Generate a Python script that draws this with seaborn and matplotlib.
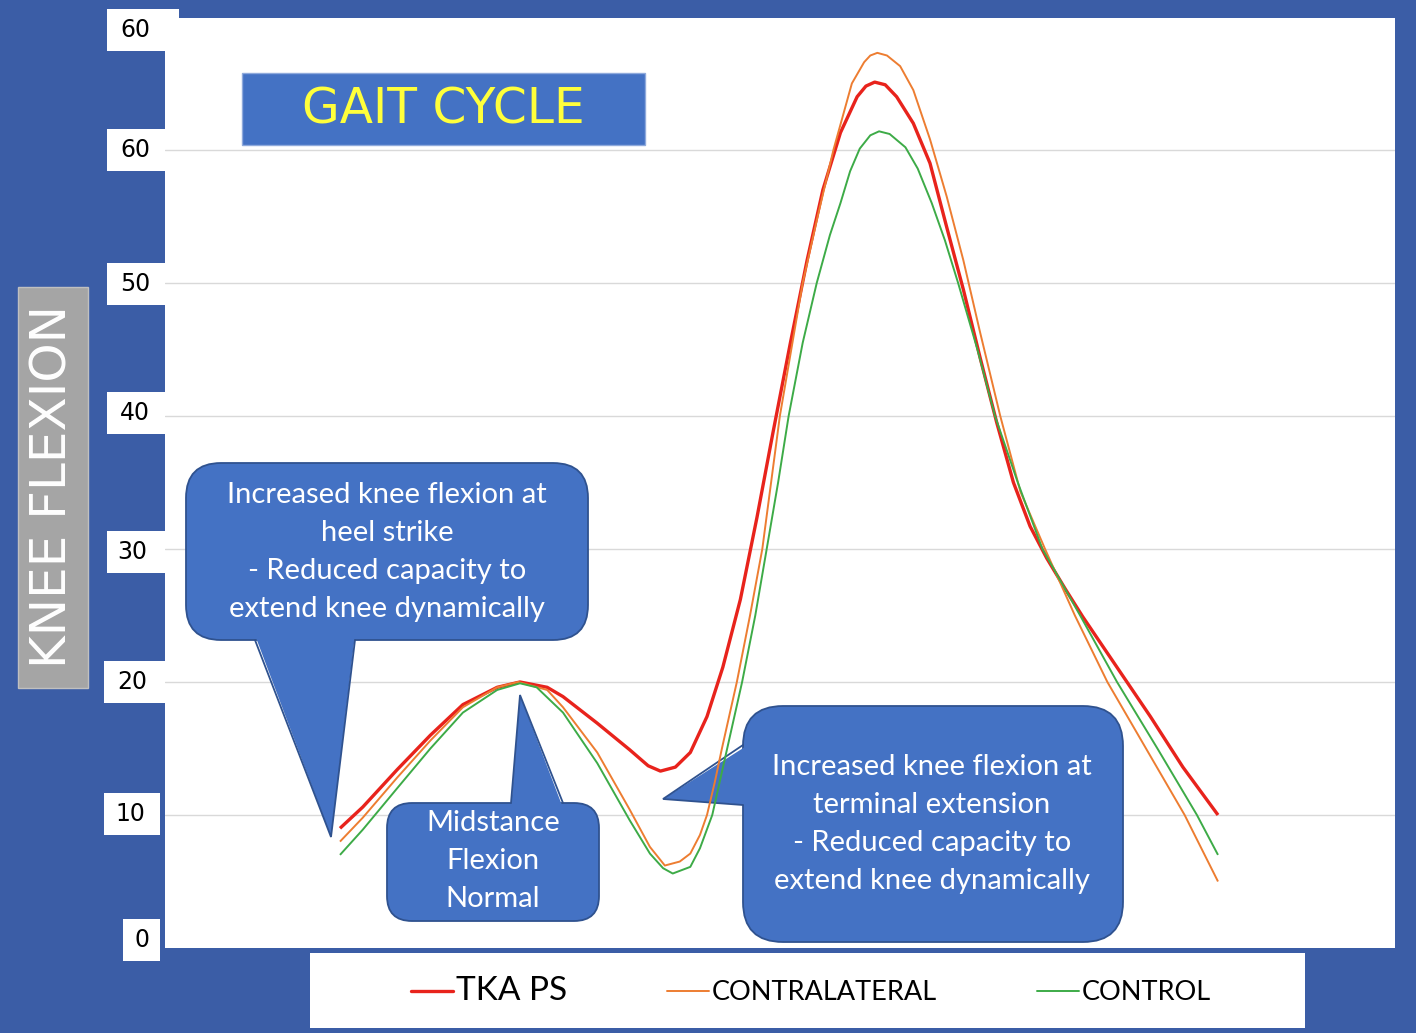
import numpy as np
import pandas as pd
import matplotlib
matplotlib.use("Agg")
import matplotlib.pyplot as plt
import seaborn as sns
from matplotlib.patches import FancyBboxPatch, Rectangle, Polygon
from matplotlib.lines import Line2D
from matplotlib.transforms import Affine2D, blended_transform_factory

# ---------------- data ----------------
series_names = ["TKA PS", "CONTRALATERAL", "CONTROL"]

gait_tka = [0.0, 2.6, 6.5, 10.3, 14.0, 17.9, 20.5, 23.6, 25.4, 29.3, 33.0, 35.1, 36.5, 38.2,
            39.9, 41.8, 43.6, 45.6, 47.5, 49.3, 51.3, 53.2, 55.0, 57.0, 58.9, 59.9, 60.9,
            62.1, 63.4, 65.3, 67.2, 69.1, 71.0, 72.9, 74.8, 76.7, 78.6, 80.5, 82.6, 84.6,
            88.5, 92.3, 96.0, 100.0]
knee_tka = [9.0, 10.6, 13.4, 16.0, 18.3, 19.6, 20.0, 19.6, 18.9, 16.9, 14.9, 13.7, 13.3, 13.6,
            14.7, 17.4, 21.1, 26.2, 32.4, 38.7, 45.5, 51.7, 57.0, 61.3, 64.0, 64.8, 65.1,
            64.9, 64.0, 62.0, 59.0, 54.2, 49.5, 44.4, 39.5, 35.0, 31.7, 29.3, 27.0, 24.9,
            21.1, 17.4, 13.6, 10.0]

gait_contra = [0.0, 2.6, 6.5, 10.3, 14.0, 17.9, 20.3, 23.6, 25.4, 29.3, 33.0, 35.3, 37.0, 38.7,
               39.9, 41.0, 41.8, 42.7, 43.5, 45.2, 46.7, 48.1, 49.1, 50.1, 51.4, 52.7, 54.4,
               56.2, 58.3, 59.7, 60.4, 61.2, 62.3, 63.8, 65.3, 67.2, 69.1, 71.0, 72.9, 75.2,
               77.5, 80.3, 83.7, 87.4, 91.8, 96.2, 100.0]
knee_contra = [8.0, 9.8, 12.8, 15.6, 18.1, 19.6, 20.0, 19.4, 18.1, 14.7, 10.4, 7.6, 6.2, 6.5,
               7.1, 8.5, 10.0, 12.5, 15.0, 20.0, 25.0, 30.0, 35.0, 40.0, 45.0, 50.0, 55.0,
               60.0, 65.0, 66.6, 67.1, 67.3, 67.1, 66.3, 64.5, 60.8, 56.5, 51.7, 46.3, 40.0,
               34.3, 30.0, 25.0, 20.0, 15.0, 10.0, 5.0]

gait_control = [0.0, 2.6, 6.5, 10.3, 14.0, 17.9, 20.5, 22.4, 25.4, 29.3, 33.0, 35.3, 36.8, 37.9,
                39.9, 41.0, 42.4, 44.1, 45.8, 47.3, 48.6, 49.9, 51.1, 52.7, 54.3, 55.8, 57.0,
                58.1, 59.2, 60.4, 61.4, 62.6, 64.4, 65.8, 67.4, 68.9, 70.4, 72.6, 74.6, 77.2,
                80.0, 84.3, 88.5, 93.1, 97.6, 100.0]
knee_control = [7.0, 8.9, 12.0, 15.0, 17.7, 19.4, 19.9, 19.6, 17.7, 13.9, 9.6, 7.1, 6.0, 5.6,
                6.1, 7.5, 10.0, 15.0, 20.0, 25.0, 30.0, 35.0, 40.0, 45.5, 50.0, 53.6, 56.0,
                58.4, 60.1, 61.1, 61.4, 61.2, 60.2, 58.6, 56.0, 53.2, 50.0, 45.0, 40.0, 35.0,
                30.0, 25.0, 20.0, 15.0, 10.0, 7.0]

grid_values = [10, 20, 30, 40, 50, 60]
ytick_labels = ["0", "10", "20", "30", "40", "50", "60", "60"]
ytick_pos = [0.6, 10.1, 20.0, 29.8, 40.2, 49.9, 60.0, 69.0]

colors = {"TKA PS": "#e8231c", "CONTRALATERAL": "#ed7d31", "CONTROL": "#3dab47"}
widths = {"TKA PS": 2.4, "CONTRALATERAL": 1.4, "CONTROL": 1.4}

BG = "#3b5da6"
BOX = "#4472c4"
EDGE = "#2f528f"

df = pd.concat([
    pd.DataFrame({"gait": gait_tka, "knee": knee_tka, "series": "TKA PS"}),
    pd.DataFrame({"gait": gait_contra, "knee": knee_contra, "series": "CONTRALATERAL"}),
    pd.DataFrame({"gait": gait_control, "knee": knee_control, "series": "CONTROL"}),
], ignore_index=True)

# ---------------- figure ----------------
sns.set_theme(style="white")
plt.rcParams["font.family"] = ["Lato", "DejaVu Sans"]

W, H = 1416, 1033
fig = plt.figure(figsize=(W / 100, H / 100), dpi=100, facecolor=BG)
ax = fig.add_axes([165 / W, 1 - 948 / H, (1395 - 165) / W, (948 - 18) / H])
ax.set_facecolor("white")

# pixel coordinates (origin top-left)
T = Affine2D().scale(1 / W, -1 / H).translate(0, 1) + fig.transFigure

sns.lineplot(data=df, x="gait", y="knee", hue="series", size="series",
             hue_order=series_names, size_order=series_names,
             palette=colors, sizes=widths, estimator=None, errorbar=None,
             ax=ax, zorder=3)
for ln in ax.get_lines():
    ln.set_solid_joinstyle("round")
    ln.set_solid_capstyle("butt")

ax.set_xlim(-19.93, 120.16)
ax.set_ylim(0, 69.92)
ax.set_yticks(grid_values)
ax.set_xticks([])
ax.tick_params(left=False, labelleft=False, bottom=False, labelbottom=False)
ax.yaxis.grid(True, color="#d9d9d9", lw=1.0)
ax.set_axisbelow(True)
ax.set_xlabel("")
ax.set_ylabel("")
for s in ax.spines.values():
    s.set_visible(False)


def callout(box, r, edge_pts, fill_pts, lines, center, fs=21, ls=1.56):
    x0, y0, x1, y1 = box
    p = FancyBboxPatch((x0, y0), x1 - x0, y1 - y0,
                       boxstyle=f"round,pad=0,rounding_size={r}",
                       transform=T, fc=BOX, ec=EDGE, lw=1.3, zorder=1.0, clip_on=False)
    ax.add_patch(p)
    poly = Polygon(fill_pts, closed=True, transform=T, fc=BOX, ec="none",
                   zorder=1.1, clip_on=False)
    ax.add_patch(poly)
    xs = [q[0] for q in edge_pts]
    ys = [q[1] for q in edge_pts]
    ax.add_line(Line2D(xs, ys, transform=T, color=EDGE, lw=1.3, zorder=1.2,
                       clip_on=False, solid_joinstyle="miter"))
    ax.text(center[0], center[1], "\n".join(lines), transform=T, ha="center",
            va="center", multialignment="center", color="white", fontsize=fs,
            linespacing=ls, zorder=4)


callout((186, 463, 588, 640), 35,
        [(255, 640), (331, 837), (355, 640)],
        [(255, 635), (331, 837), (355, 635)],
        ["Increased knee flexion at", "heel strike", "- Reduced capacity to",
         "extend knee dynamically"], (387, 552))

callout((387, 803, 599, 921), 25,
        [(511, 803), (520, 695), (563, 803)],
        [(511, 808), (520, 695), (563, 808)],
        ["Midstance", "Flexion", "Normal"], (493, 861))

callout((743, 706, 1123, 942), 40,
        [(743, 745), (663, 799), (743, 805)],
        [(748, 745), (663, 799), (748, 805)],
        ["Increased knee flexion at", "terminal extension", "- Reduced capacity to",
         "extend knee dynamically"], (932, 824))

# title box
ax.add_patch(Rectangle((242, 73), 403, 72, transform=T, fc=BOX, ec="#8faadc",
                       lw=1.0, zorder=1.0, clip_on=False))
ax.text(443, 109, "GAIT CYCLE", transform=T, ha="center", va="center",
        color="#ffff3b", fontsize=35, family=["DejaVu Sans"], zorder=4)

# y tick label boxes
BT = blended_transform_factory(T, ax.transData)
box_left = [123, 104, 104, 107, 107, 107, 107, 107]
box_right = [160, 160, 165, 165, 165, 165, 165, 179]
text_x = [142, 130, 132, 132, 135, 135, 135, 135]
half_h = 21 / 13.3
for lab, yp, bl, br, tx in zip(ytick_labels, ytick_pos, box_left, box_right, text_x):
    fig.add_artist(Rectangle((bl, yp - half_h), br - bl, 2 * half_h, transform=BT,
                             fc="white", ec="none", zorder=5))
    fig.text(tx, yp, lab, transform=BT, ha="center", va="center", fontsize=17,
             color="black", family=["DejaVu Sans"], zorder=6)

# y axis title
fig.add_artist(Rectangle((18, 287), 70, 401, transform=T, fc="#a5a5a5",
                         ec="#c0c0c0", lw=1.0, zorder=5))
fig.text(53, 487, "KNEE FLEXION", transform=T, rotation=90, ha="center", va="center",
         color="white", fontsize=36, family=["DejaVu Sans"], zorder=6)

# legend
fig.add_artist(Rectangle((310, 953), 995, 75, transform=T, fc="white", ec="none",
                         zorder=-1))
sns.move_legend(ax, "center", bbox_to_anchor=(811 / W, 1 - 991 / H),
                bbox_transform=fig.transFigure, ncol=3, frameon=False, title=None,
                fontsize=19.5, handlelength=1.55, handletextpad=0.1, columnspacing=3.7)
leg = ax.get_legend()
for t in leg.get_texts():
    t.set_color("black")
leg.get_texts()[0].set_fontsize(24)

fig.savefig("out.png", dpi=100, facecolor=BG)
